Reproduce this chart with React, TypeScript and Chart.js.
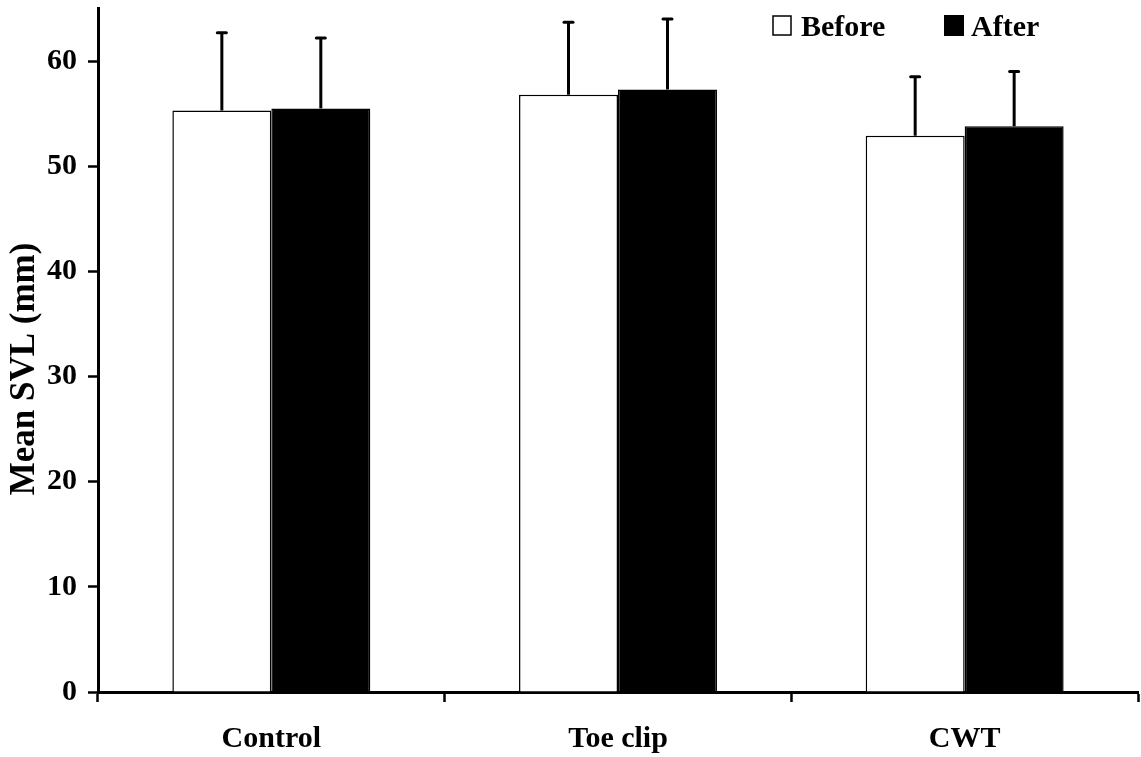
import React, { useEffect, useRef } from "react";
import { Chart, registerables } from "chart.js";

Chart.register(...registerables);

const categories = ["Control", "Toe clip", "CWT"];
const seriesLabels = ["Before", "After"];
const beforeMeans = [55.3, 56.8, 52.9];
const beforeSD = [7.4, 6.9, 5.6];
const afterMeans = [55.5, 57.3, 53.8];
const afterSD = [6.7, 6.7, 5.2];
const yTicks = [0, 10, 20, 30, 40, 50, 60];
const yTitle = "Mean SVL (mm)";

const FONT = "'Liberation Serif', 'Times New Roman', serif";

const errorBarPlugin = {
  id: "errorBars",
  afterDatasetsDraw(chart: any) {
    const ctx = chart.ctx;
    const yScale = chart.scales.y;
    chart.data.datasets.forEach((ds: any, i: number) => {
      const meta = chart.getDatasetMeta(i);
      meta.data.forEach((bar: any, j: number) => {
        const v = ds.data[j];
        const sd = ds.errors[j];
        const yTop = yScale.getPixelForValue(v + sd);
        const x = bar.x;
        ctx.save();
        ctx.strokeStyle = "#000";
        ctx.lineWidth = 3;
        ctx.lineCap = "butt";
        ctx.beginPath();
        ctx.moveTo(x, bar.y);
        ctx.lineTo(x, yTop);
        ctx.stroke();
        ctx.lineCap = "round";
        ctx.beginPath();
        ctx.moveTo(x - 4.5, yTop);
        ctx.lineTo(x + 4.5, yTop);
        ctx.stroke();
        ctx.restore();
      });
    });
  },
};

const legendPlugin = {
  id: "customLegend",
  afterDraw(chart: any) {
    const ctx = chart.ctx;
    ctx.save();
    ctx.font = `bold 30px ${FONT}`;
    ctx.textBaseline = "alphabetic";
    // Before
    ctx.fillStyle = "#fff";
    ctx.fillRect(773, 16, 18, 19);
    ctx.strokeStyle = "#000";
    ctx.lineWidth = 1.5;
    ctx.strokeRect(773, 16, 18, 19);
    ctx.fillStyle = "#000";
    ctx.fillText(chart.data.datasets[0].label, 801, 36);
    // After
    ctx.fillRect(944, 15, 20, 21);
    ctx.fillText(chart.data.datasets[1].label, 971, 36);
    // y-axis title
    ctx.translate(25, 369);
    ctx.rotate(-Math.PI / 2);
    ctx.font = `bold 35px ${FONT}`;
    ctx.textAlign = "center";
    ctx.textBaseline = "middle";
    ctx.fillText(yTitle, 0, 0);
    ctx.restore();
  },
};

export default function App() {
  const canvasRef = useRef<HTMLCanvasElement | null>(null);

  useEffect(() => {
    if (!canvasRef.current) return;
    const chart = new Chart(canvasRef.current, {
      type: "bar",
      data: {
        labels: categories,
        datasets: [
          {
            label: seriesLabels[0],
            data: beforeMeans,
            errors: beforeSD,
            backgroundColor: "#ffffff",
            borderColor: "#000000",
            borderWidth: 1.5,
            barPercentage: 1,
            categoryPercentage: 0.571,
          } as any,
          {
            label: seriesLabels[1],
            data: afterMeans,
            errors: afterSD,
            backgroundColor: "#000000",
            borderColor: "#000000",
            borderWidth: 1.5,
            barPercentage: 1,
            categoryPercentage: 0.571,
          } as any,
        ],
      },
      options: {
        responsive: false,
        animation: false,
        devicePixelRatio: 1,
        layout: { padding: { top: 8.5, right: 3, left: 0, bottom: 0 } },
        plugins: {
          legend: { display: false },
          tooltip: { enabled: false },
        },
        scales: {
          x: {
            offset: true,
            grid: {
              offset: true,
              drawOnChartArea: false,
              drawTicks: true,
              tickLength: 10,
              tickWidth: 2.5,
              tickColor: "#000",
              color: "#000",
            },
            border: { display: true, color: "#000", width: 3 },
            ticks: {
              color: "#000",
              font: { family: FONT, size: 30, weight: "bold" },
              padding: 19,
              maxRotation: 0,
            },
            afterFit(scale: any) {
              scale.height = 65;
              scale.paddingLeft = 0;
              scale.paddingRight = 0;
            },
          },
          y: {
            min: 0,
            max: 65,
            afterBuildTicks(scale: any) {
              scale.ticks = yTicks.map((v) => ({ value: v }));
            },
            grid: {
              drawOnChartArea: false,
              drawTicks: true,
              tickLength: 10,
              tickWidth: 2.5,
              tickColor: "#000",
              color: "#000",
            },
            border: { display: true, color: "#000", width: 3 },
            ticks: {
              color: "#000",
              font: { family: FONT, size: 30, weight: "bold" },
              padding: 11,
            },
            afterFit(scale: any) {
              scale.width = 98;
              scale.paddingTop = 0;
              scale.paddingBottom = 0;
            },
          },
        },
      } as any,
      plugins: [errorBarPlugin, legendPlugin],
    });
    return () => chart.destroy();
  }, []);

  return (
    <div style={{ position: "absolute", left: 0, top: 0, width: 1141, height: 757, background: "#fff" }}>
      <canvas ref={canvasRef} width={1141} height={757} style={{ display: "block" }} />
    </div>
  );
}
